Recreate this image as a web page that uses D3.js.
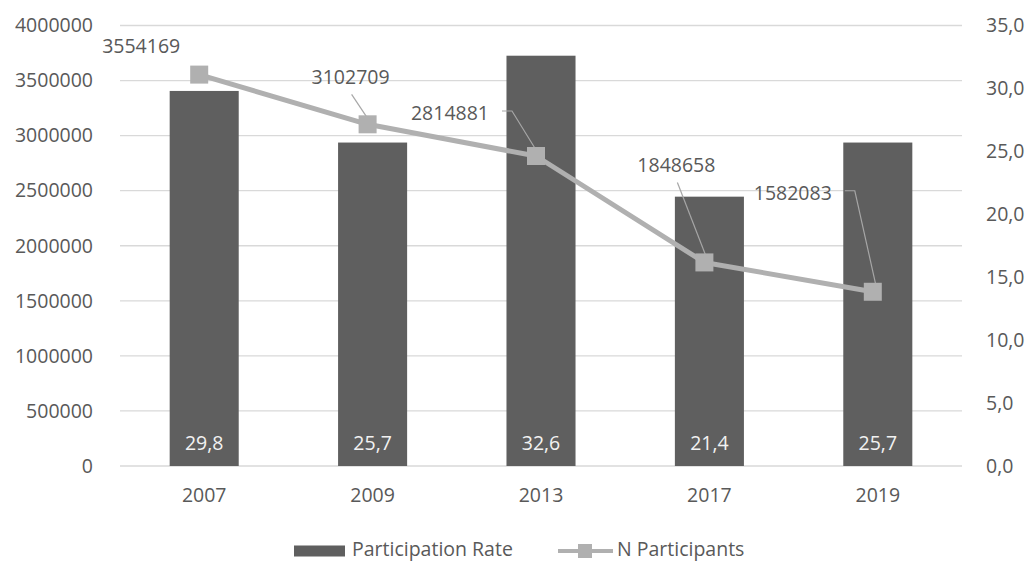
<!DOCTYPE html>
<html>
<head>
<meta charset="utf-8">
<script src="https://cdn.jsdelivr.net/npm/d3@7"></script>
<style>
  body { margin: 0; background: #fff; }
  svg text { font-family: "Open Sans", Lato, sans-serif; fill: #595959; }
</style>
</head>
<body>
<script>
// data
var years = ["2007", "2009", "2013", "2017", "2019"];
var rate = [29.8, 25.7, 32.6, 21.4, 25.7];
var participants = [3554169, 3102709, 2814881, 1848658, 1582083];
var leftTicks = [0, 500000, 1000000, 1500000, 2000000, 2500000, 3000000, 3500000, 4000000];
var rightTicks = [0, 5, 10, 15, 20, 25, 30, 35];

// label placement relative to marker [dx, dy, leader type]
var labelPos = [[-58, -28, "none"], [-17, -47, "down"], [-86, -43, "side"], [-28, -97, "down"], [-80, -99, "side"]];

var W = 1029, H = 563;
var m = {left: 120, right: 67, top: 25.5, bottom: 97};
var fs = 19.5;

var svg = d3.select("body").append("svg").attr("width", W).attr("height", H);

var x = d3.scaleBand().domain(years)
    .range([m.left, W - m.right])
    .paddingInner(0.59).paddingOuter(0.295);
var yL = d3.scaleLinear().domain([0, 4000000]).range([H - m.bottom, m.top]);
var yR = d3.scaleLinear().domain([0, 35]).range([H - m.bottom, m.top]);

// gridlines
svg.append("g").selectAll("line").data(leftTicks).enter().append("line")
  .attr("x1", m.left).attr("x2", W - m.right)
  .attr("y1", function(d){ return yL(d); }).attr("y2", function(d){ return yL(d); })
  .attr("stroke", "#d9d9d9").attr("stroke-width", 1.3);

// left axis
var axL = svg.append("g").attr("transform", "translate(" + (m.left - 27) + ",0)")
  .call(d3.axisLeft(yL).tickValues(leftTicks).tickSize(0).tickPadding(0).tickFormat(d3.format("d")));
axL.select(".domain").remove();
axL.selectAll("text").style("font-size", fs + "px").attr("fill", "#595959");

// right axis
var axR = svg.append("g").attr("transform", "translate(" + (W - m.right + 24) + ",0)")
  .call(d3.axisRight(yR).tickValues(rightTicks).tickSize(0).tickPadding(0)
    .tickFormat(function(d){ return d3.format(".1f")(d).replace(".", ","); }));
axR.select(".domain").remove();
axR.selectAll("text").style("font-size", fs + "px").attr("fill", "#595959");

// x axis
var axX = svg.append("g").attr("transform", "translate(0," + (H - m.bottom) + ")")
  .call(d3.axisBottom(x).tickSize(0).tickPadding(22));
axX.select(".domain").remove();
axX.selectAll("text").style("font-size", fs + "px").attr("fill", "#595959");

// bars
svg.append("g").selectAll("rect").data(rate).enter().append("rect")
  .attr("x", function(d, i){ return x(years[i]); })
  .attr("width", x.bandwidth())
  .attr("y", function(d){ return yR(d); })
  .attr("height", function(d){ return yR(0) - yR(d); })
  .attr("fill", "#5f5f5f");

svg.append("g").selectAll("text").data(rate).enter().append("text")
  .attr("x", function(d, i){ return x(years[i]) + x.bandwidth() / 2; })
  .attr("y", yR(0) - 23)
  .attr("dy", "0.35em")
  .attr("text-anchor", "middle")
  .style("font-size", fs + "px")
  .style("fill", "#f2f2f2")
  .text(function(d){ return d3.format(".1f")(d).replace(".", ","); });

// line
var shift = -5;
var px = function(i){ return x(years[i]) + x.bandwidth() / 2 + shift; };
var line = d3.line().x(function(d, i){ return px(i); }).y(function(d){ return yL(d); });

// leader lines
svg.append("g").selectAll("polyline").data(participants).enter()
  .filter(function(d, i){ return labelPos[i][2] != "none"; })
  .append("polyline")
  .attr("points", function(d) {
      var i = participants.indexOf(d);
      var mx = px(i), my = yL(d);
      var tx = mx + labelPos[i][0], ty = my + labelPos[i][1];
      if (labelPos[i][2] == "down") {
          return [[tx + 1, ty + 17], [mx + 4, my]].join(" ");
      }
      return [[tx + 52, ty - 2], [tx + 62, ty - 2], [mx + 5, my + 2]].join(" ");
  })
  .attr("fill", "none").attr("stroke", "#a6a6a6").attr("stroke-width", 1.2);

svg.append("path").datum(participants)
  .attr("d", line)
  .attr("fill", "none").attr("stroke", "#b0b0b0").attr("stroke-width", 5)
  .attr("stroke-linejoin", "round");

var mk = 18;
svg.append("g").selectAll("rect").data(participants).enter().append("rect")
  .attr("x", function(d, i){ return px(i) - mk / 2; })
  .attr("y", function(d){ return yL(d) - mk / 2; })
  .attr("width", mk).attr("height", mk)
  .attr("fill", "#b0b0b0");

svg.append("g").selectAll("text").data(participants).enter().append("text")
  .attr("x", function(d, i){ return px(i) + labelPos[i][0]; })
  .attr("y", function(d, i){ return yL(d) + labelPos[i][1]; })
  .attr("dy", "0.35em")
  .attr("text-anchor", "middle")
  .style("font-size", fs + "px")
  .text(function(d){ return d; });

// legend
var lg = svg.append("g").attr("transform", "translate(0,549.5)");
lg.append("rect").attr("x", 294).attr("y", -4).attr("width", 51).attr("height", 11).attr("fill", "#5f5f5f");
lg.append("text").attr("x", 352).attr("dy", "0.35em").style("font-size", fs + "px").text("Participation Rate");
lg.append("line").attr("x1", 558).attr("x2", 613).attr("y1", 1.5).attr("y2", 1.5).attr("stroke", "#b0b0b0").attr("stroke-width", 4);
lg.append("rect").attr("x", 578).attr("y", -5.5).attr("width", 14).attr("height", 14).attr("fill", "#b0b0b0");
lg.append("text").attr("x", 617).attr("dy", "0.35em").style("font-size", fs + "px").text("N Participants");
</script>
</body>
</html>
